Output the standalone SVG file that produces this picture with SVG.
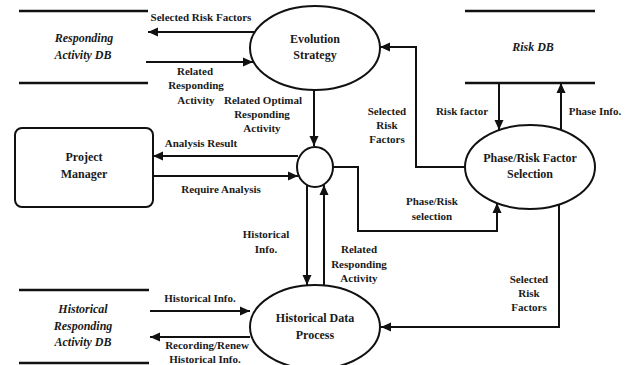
<svg xmlns="http://www.w3.org/2000/svg" width="628" height="365" viewBox="0 0 628 365">
<style>
text{font-family:"Liberation Serif","Times New Roman",serif;font-weight:bold;fill:#1a1a1a;text-anchor:middle}
.n{font-size:12px}
.db{font-size:12px;font-style:italic}
.l{font-size:11px}
.shape{fill:#fff;stroke:#111;stroke-width:2}
.dbl{stroke:#111;stroke-width:2.5}
.c{fill:none;stroke:#111;stroke-width:2}
</style>
<defs>
<marker id="a" markerUnits="userSpaceOnUse" markerWidth="10" markerHeight="10" refX="10" refY="5" orient="auto">
<path d="M0,0.5 L10,5 L0,9.5 z" fill="#111"/>
</marker>
</defs>
<g id="connectors">
<path class="c" d="M255,32 H148" marker-end="url(#a)"/>
<path class="c" d="M146,62 H253" marker-end="url(#a)"/>
<path class="c" d="M314,90 V146" marker-end="url(#a)"/>
<path class="c" d="M298,156 H153" marker-end="url(#a)"/>
<path class="c" d="M153,176 H298" marker-end="url(#a)"/>
<path class="c" d="M332,167 H358 V231 H497 V203" marker-end="url(#a)"/>
<path class="c" d="M465,167 H416 V47 H380" marker-end="url(#a)"/>
<path class="c" d="M499,83 V130" marker-end="url(#a)"/>
<path class="c" d="M561,130 V83" marker-end="url(#a)"/>
<path class="c" d="M307,185 V285" marker-end="url(#a)"/>
<path class="c" d="M324,286 V185" marker-end="url(#a)"/>
<path class="c" d="M559,205 V327 H381" marker-end="url(#a)"/>
<path class="c" d="M150,311 H250" marker-end="url(#a)"/>
<path class="c" d="M250,337 H150" marker-end="url(#a)"/>
</g>
<g id="labels">
<text class="l" x="201" y="21">Selected Risk Factors</text>
<text class="l" x="195" y="75">Related</text>
<text class="l" x="196" y="89">Responding</text>
<text class="l" x="196" y="104">Activity</text>
<text class="l" x="263" y="104">Related Optimal</text>
<text class="l" x="262" y="118">Responding</text>
<text class="l" x="262" y="132">Activity</text>
<text class="l" x="201" y="147">Analysis Result</text>
<text class="l" x="221" y="193">Require Analysis</text>
<text class="l" x="387" y="115">Selected</text>
<text class="l" x="387" y="129">Risk</text>
<text class="l" x="387" y="143">Factors</text>
<text class="l" x="462" y="115">Risk factor</text>
<text class="l" x="595" y="115">Phase Info.</text>
<text class="l" x="432" y="205">Phase/Risk</text>
<text class="l" x="432" y="220">selection</text>
<text class="l" x="266" y="238">Historical</text>
<text class="l" x="266" y="253">Info.</text>
<text class="l" x="359" y="253">Related</text>
<text class="l" x="359" y="268">Responding</text>
<text class="l" x="359" y="282">Activity</text>
<text class="l" x="529" y="283">Selected</text>
<text class="l" x="529" y="297">Risk</text>
<text class="l" x="529" y="311">Factors</text>
<text class="l" x="200" y="302">Historical Info.</text>
<text class="l" x="207" y="349">Recording/Renew</text>
<text class="l" x="205" y="363">Historical Info.</text>
</g>
<g id="responding-db">
<line class="dbl" x1="19" y1="11" x2="148" y2="11"/>
<line class="dbl" x1="19" y1="83" x2="148" y2="83"/>
<text class="db" x="84" y="42">Responding</text>
<text class="db" x="83" y="59">Activity DB</text>
</g>
<g id="evolution-strategy">
<ellipse class="shape" cx="315" cy="48" rx="65" ry="42"/>
<text class="n" x="315" y="43">Evolution</text>
<text class="n" x="315" y="59">Strategy</text>
</g>
<g id="risk-db">
<line class="dbl" x1="465" y1="11" x2="595" y2="11"/>
<line class="dbl" x1="465" y1="83" x2="595" y2="83"/>
<text class="db" x="533" y="51">Risk DB</text>
</g>
<g id="project-manager">
<rect class="shape" x="15" y="128" width="138" height="79" rx="7"/>
<text class="n" x="84" y="161">Project</text>
<text class="n" x="84" y="178">Manager</text>
</g>
<g id="hub">
<ellipse class="shape" cx="315" cy="167" rx="18" ry="20"/>
</g>
<g id="phase-risk-selection">
<ellipse class="shape" cx="530" cy="167" rx="65" ry="42"/>
<text class="n" x="530" y="162">Phase/Risk Factor</text>
<text class="n" x="530" y="178">Selection</text>
</g>
<g id="historical-db">
<line class="dbl" x1="19" y1="290" x2="149" y2="290"/>
<line class="dbl" x1="19" y1="363" x2="149" y2="363"/>
<text class="db" x="83" y="313">Historical</text>
<text class="db" x="83" y="330">Responding</text>
<text class="db" x="83" y="346">Activity DB</text>
</g>
<g id="historical-process">
<ellipse class="shape" cx="315" cy="327" rx="65" ry="42"/>
<text class="n" x="315" y="322">Historical Data</text>
<text class="n" x="315" y="339">Process</text>
</g>
</svg>
